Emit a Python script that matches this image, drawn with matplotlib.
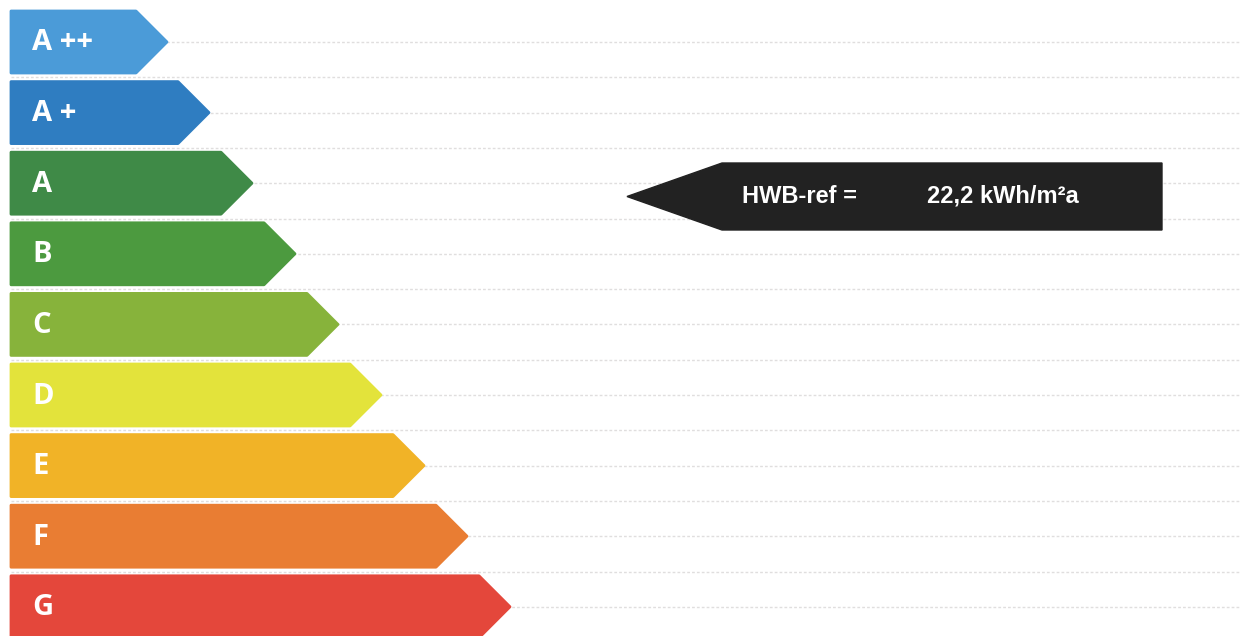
import matplotlib.pyplot as plt
from matplotlib.patches import Polygon

# energy classes, their colours and how far each arrow reaches (pixels)
classes = ['A ++', 'A +', 'A', 'B', 'C', 'D', 'E', 'F', 'G']
colors = ['#4b9bd8', '#2f7dc1', '#3f8a47', '#4c9a3f', '#87b33b',
          '#e3e33b', '#f1b327', '#e97d33', '#e4473b']
tip_x = [168, 210, 253, 296, 339, 382, 425, 468, 511]

hwb_label = 'HWB-ref ='
hwb_value = '22,2 kWh/m²a'
hwb_row = 2  # the black marker sits on class A

W, H = 1244, 636
fig = plt.figure(figsize=(W / 100, H / 100), dpi=100)
ax = fig.add_axes([0, 0, 1, 1])
ax.set_xlim(0, W)
ax.set_ylim(H, 0)
ax.axis('off')

x0 = 11
top0 = 11
pitch = 70.6
bh = 62

# faint grey guide lines
y = 42
while y < H:
    ax.plot([x0, W - 4], [y, y], color='#e0dede', lw=1.0, ls=(0, (2, 1.5)), zorder=0)
    y += pitch / 2

for i, (name, col, tx) in enumerate(zip(classes, colors, tip_x)):
    top = top0 + i * pitch
    bot = top + bh
    mid = (top + bot) / 2
    pts = [(x0, top), (tx - 1 - bh / 2, top), (tx - 1, mid), (tx - 1 - bh / 2, bot), (x0, bot)]
    ax.add_patch(Polygon(pts, closed=True, facecolor=col, edgecolor=col,
                         lw=2, joinstyle='round', zorder=2))
    ax.text(x0 + 21, mid + 1, name, color='white', fontsize=21, fontweight='bold',
            family='Open Sans', va='center', ha='left', zorder=3)

# black marker arrow
top = 163
bot = 230
mid = (top + bot) / 2
pts = [(627, mid), (722, top), (1162, top), (1162, bot), (722, bot)]
ax.add_patch(Polygon(pts, closed=True, facecolor='#222222', edgecolor='#222222',
                     lw=1, zorder=2))
ax.text(799, mid, hwb_label, color='white', fontsize=17, fontweight='bold',
        family='Liberation Sans', va='center', ha='center', zorder=3)
ax.text(1003, mid, hwb_value, color='white', fontsize=17, fontweight='bold',
        family='Liberation Sans', va='center', ha='center', zorder=3)

fig.savefig('out.png', dpi=100)
